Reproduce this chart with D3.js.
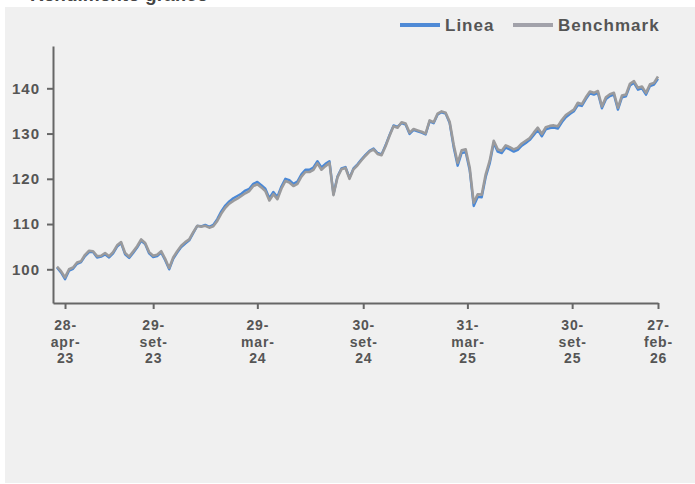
<!DOCTYPE html>
<html>
<head>
<meta charset="utf-8">
<script src="https://cdn.jsdelivr.net/npm/d3@7"></script>
<style>
  body { margin: 0; background: #fff; }
  svg { display: block; font-family: "Liberation Sans", Arial, sans-serif; }
</style>
</head>
<body>
<svg id="chart" width="695" height="484"></svg>
<script>
// weekly closes, first week and last week
var startDate = "2023-04-14",
    endDate = "2026-02-27";

// Benchmark series
var benchmark = [
  100.6, 99.6, 98.2, 100.0, 100.4, 101.5, 101.8, 103.2, 104.1, 104.0,
  102.9, 103.0, 103.6, 102.9, 103.8, 105.3, 106.0, 103.6, 102.8, 103.9,
  105.1, 106.6, 105.8, 103.8, 103.0, 103.2, 104.0, 102.3, 100.3, 102.6,
  104.0, 105.2, 106.0, 106.6, 108.2, 109.6, 109.4, 109.6, 109.2, 109.5,
  110.7, 112.3, 113.6, 114.5, 115.1, 115.6, 116.2, 116.8, 117.3, 118.4,
  118.8, 118.1, 117.3, 115.2, 116.6, 115.5, 117.8, 119.5, 119.2, 118.4,
  118.9, 120.5, 121.5, 121.5, 122.0, 123.4, 122.0, 122.8, 123.5, 116.4,
  120.3, 122.1, 122.4, 120.0, 122.1, 123.0, 124.1, 125.1, 126.0, 126.5,
  125.5, 125.2, 127.2, 129.5, 131.6, 131.3, 132.5, 132.2, 130.2, 131.0,
  130.7, 130.4, 130.0, 132.9, 132.5, 134.4, 134.9, 134.6, 132.6, 127.6,
  123.5, 126.3, 126.5, 122.5, 114.7, 116.6, 116.5, 121.0, 124.0, 128.4,
  126.5, 126.2, 127.4, 127.0, 126.5, 126.9, 127.8, 128.4, 129.0, 130.2,
  131.3, 129.9, 131.4, 131.7, 131.8, 131.6, 133.0, 134.1, 134.7, 135.3,
  136.8, 136.5, 138.0, 139.3, 139.0, 139.4, 136.0, 138.0, 138.7, 139.0,
  135.7, 138.4, 138.6, 141.0, 141.6, 140.1, 140.4, 139.0, 140.9, 141.2,
  142.6
];

// Linea series
var linea = [
  100.4, 99.3, 97.8, 99.7, 100.1, 101.2, 101.6, 102.9, 103.8, 103.8,
  102.6, 102.8, 103.3, 102.6, 103.5, 105.0, 105.8, 103.3, 102.5, 103.6,
  104.8, 106.3, 105.6, 103.5, 102.7, 102.9, 103.7, 102.0, 100.0, 102.3,
  103.7, 104.9, 105.7, 106.4, 108.0, 109.6, 109.5, 109.8, 109.4, 109.8,
  111.1, 112.8, 114.1, 115.0, 115.7, 116.2, 116.7, 117.4, 117.8, 118.9,
  119.3, 118.6, 117.8, 115.7, 117.1, 116.0, 118.3, 120.0, 119.7, 118.9,
  119.4, 121.0, 122.0, 122.0, 122.5, 123.9, 122.5, 123.3, 123.9, 116.6,
  120.5, 122.3, 122.6, 120.2, 122.3, 123.2, 124.3, 125.3, 126.2, 126.7,
  125.7, 125.4, 127.4, 129.7, 131.8, 131.5, 132.3, 132.0, 129.9, 130.8,
  130.5, 130.2, 129.8, 132.7, 132.3, 134.2, 134.7, 134.4, 132.3, 127.0,
  122.9, 125.7, 125.9, 121.9, 114.0, 116.0, 115.9, 120.4, 123.4, 127.9,
  126.0, 125.7, 126.9, 126.5, 126.0, 126.4, 127.3, 127.9, 128.6, 129.7,
  130.8, 129.4, 130.9, 131.2, 131.3, 131.1, 132.5, 133.6, 134.3, 134.9,
  136.3, 136.1, 137.6, 138.9, 138.6, 139.0, 135.6, 137.6, 138.3, 138.6,
  135.3, 138.0, 138.2, 140.6, 141.2, 139.7, 140.0, 138.6, 140.5, 140.8,
  142.1
];

// x tick dates and their labels
var tickDates = ["2023-04-28", "2023-09-29", "2024-03-29", "2024-09-30",
                 "2025-03-31", "2025-09-30", "2026-02-27"];
var tickLabels = [["28-", "apr-", "23"], ["29-", "set-", "23"], ["29-", "mar-", "24"],
                  ["30-", "set-", "24"], ["31-", "mar-", "25"], ["30-", "set-", "25"],
                  ["27-", "feb-", "26"]];
var yTicks = [100, 110, 120, 130, 140];

var seriesNames = ["Linea", "Benchmark"];
var seriesColors = ["#4a88d6", "#9a9a9c"];

var parse = d3.timeParse("%Y-%m-%d");
var dates = d3.timeDay.range(parse(startDate), d3.timeDay.offset(parse(endDate), 1), 7);

var svg = d3.select("#chart");

// grey panel
svg.append("rect")
    .attr("x", 5)
    .attr("y", 7)
    .attr("width", 690)
    .attr("height", 476)
    .attr("fill", "#f0f0f0");

// title, cut off at the top like in the source
svg.append("text")
    .attr("x", 30)
    .attr("y", 1)
    .attr("fill", "#444")
    .style("font-size", "19px")
    .style("font-weight", "bold")
    .text("Rendimento grafico");

// scales
var x = d3.scaleTime()
    .domain([parse("2023-04-07"), parse("2026-02-27")])
    .range([53, 658]);

var y = d3.scaleLinear()
    .domain([92.55, 149.35])
    .range([303, 46]);

var axisColor = "#666",
    textColor = "#555";

// y axis
var yAxis = svg.append("g")
    .attr("transform", "translate(53,0)")
    .call(d3.axisLeft(y).tickValues(yTicks).tickSize(6).tickPadding(7).tickSizeOuter(0));
yAxis.select(".domain").attr("stroke", axisColor).attr("stroke-width", 2);
yAxis.selectAll(".tick line").attr("stroke", axisColor).attr("stroke-width", 2);
yAxis.selectAll(".tick text")
    .attr("fill", textColor)
    .style("font-size", "15px")
    .style("font-weight", "bold")
    .style("letter-spacing", "1px")
    .style("font-family", "'Liberation Sans', Arial, sans-serif");

// x axis
var xAxis = svg.append("g")
    .attr("transform", "translate(0,303)")
    .call(d3.axisBottom(x).tickValues(tickDates.map(parse)).tickSize(6).tickSizeOuter(0).tickFormat(""));
xAxis.select(".domain").attr("stroke", axisColor).attr("stroke-width", 2);
xAxis.selectAll(".tick line").attr("stroke", axisColor).attr("stroke-width", 2);

xAxis.selectAll(".tick").each(function(d, i) {
  var t = d3.select(this).select("text")
      .attr("y", 0)
      .attr("dy", null)
      .attr("fill", textColor)
      .style("font-size", "14px")
      .style("font-weight", "bold")
      .style("letter-spacing", "0.8px")
      .style("font-family", "'Liberation Sans', Arial, sans-serif");
  t.selectAll("tspan")
      .data(tickLabels[i])
    .enter().append("tspan")
      .attr("x", 0)
      .attr("y", function(s, j) { return 27 + j * 16.5; })
      .text(function(s) { return s; });
});

// lines
var line = d3.line()
    .x(function(d, i) { return x(dates[i]); })
    .y(function(d) { return y(d); });

svg.append("path")
    .datum(linea)
    .attr("fill", "none")
    .attr("stroke", seriesColors[0])
    .attr("stroke-width", 2.4)
    .attr("stroke-linejoin", "round")
    .attr("d", line);

svg.append("path")
    .datum(benchmark)
    .attr("fill", "none")
    .attr("stroke", seriesColors[1])
    .attr("stroke-width", 2.6)
    .attr("stroke-linejoin", "round")
    .attr("d", line);

// legend
var legendX = [400, 513];
var legend = svg.selectAll(".legend")
    .data(seriesNames)
  .enter().append("g")
    .attr("class", "legend")
    .attr("transform", function(d, i) { return "translate(" + legendX[i] + ",25)"; });

legend.append("rect")
    .attr("x", 0)
    .attr("y", -2)
    .attr("width", 40)
    .attr("height", 4)
    .attr("fill", function(d, i) { return i == 0 ? "#4f8ad6" : "#a2a2aa"; });

legend.append("text")
    .attr("x", 45)
    .attr("y", 6)
    .attr("fill", textColor)
    .style("font-size", "17px")
    .style("font-weight", "bold")
    .style("letter-spacing", "1px")
    .text(function(d) { return d; });
</script>
</body>
</html>
